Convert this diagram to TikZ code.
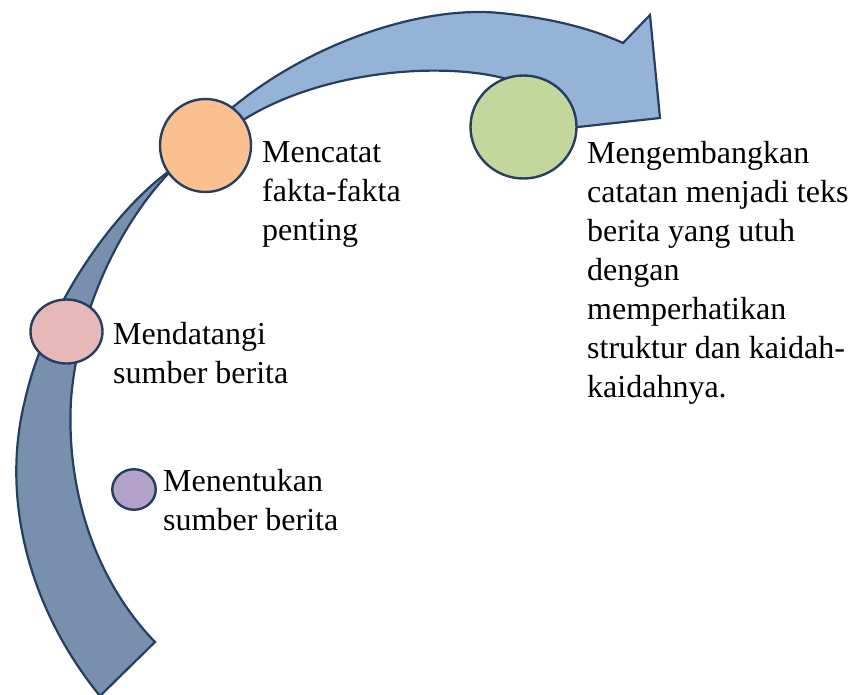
\documentclass[tikz,border=0pt]{standalone}
\usepackage{fontspec}
\setmainfont{Liberation Serif}
\usetikzlibrary{shapes.geometric}
\definecolor{edgeblue}{HTML}{243F60}
\definecolor{darkarc}{HTML}{7890AE}
\definecolor{lightarc}{HTML}{95B3D7}
\definecolor{orangefill}{HTML}{FAC090}
\definecolor{pinkfill}{HTML}{E6B9B8}
\definecolor{purplefill}{HTML}{B3A2C7}
\definecolor{greenfill}{HTML}{C3D69B}
\tikzset{
  arcshape/.style={draw=edgeblue, line width=2.2pt, line join=miter},
  dot/.style={ellipse, draw=edgeblue, line width=2.4pt, inner sep=0pt},
  label/.style={font=\fontsize{32}{39}\selectfont, align=left, inner sep=0pt, anchor=base west}
}
\begin{document}
\begin{tikzpicture}[x=1pt,y=-1pt]
\useasboundingbox (0,0) rectangle (852,695);
% lower dark arc
\path[arcshape, fill=darkarc]
  (100,696) .. controls (30,610) and (0,500) .. (25,400)
  .. controls (45,310) and (110,215) .. (168,172)
  -- (168,174) .. controls (120,225) and (78,310) .. (71,400)
  .. controls (66,490) and (95,580) .. (155,642)
  -- cycle;
% upper light arrow
\path[arcshape, fill=lightarc]
  (218,120) .. controls (300,45) and (420,5) .. (500,13)
  .. controls (550,18) and (590,28) .. (623,43)
  -- (650,15) -- (660,118) -- (560,129)
  .. controls (545,100) and (525,83) .. (503,78)
  .. controls (440,62) and (320,70) .. (240,122)
  -- (225,135) -- cycle;
% circles
\node[dot, fill=orangefill, minimum width=91pt, minimum height=93pt] (c2) at (205.5,145.5) {};
\node[dot, fill=pinkfill, minimum width=72pt, minimum height=64pt] (c1) at (66.5,331.5) {};
\node[dot, fill=purplefill, minimum width=43.5pt, minimum height=40.5pt] (c0) at (134,489.5) {};
\node[dot, fill=greenfill, minimum width=106pt, minimum height=103pt] (c3) at (523.5,127) {};
% texts (anchored at the baseline of their last line)
\node[label] (t2) at (262,241) {Mencatat\\fakta-fakta\\penting};
\node[label] (t3) at (587,397) {Mengembangkan\\catatan menjadi teks\\berita yang utuh\\dengan\\memperhatikan\\struktur dan kaidah-\\kaidahnya.};
\node[label] (t1) at (113,383) {Mendatangi\\sumber berita};
\node[label] (t0) at (163,530) {Menentukan\\sumber berita};
\end{tikzpicture}
\end{document}
